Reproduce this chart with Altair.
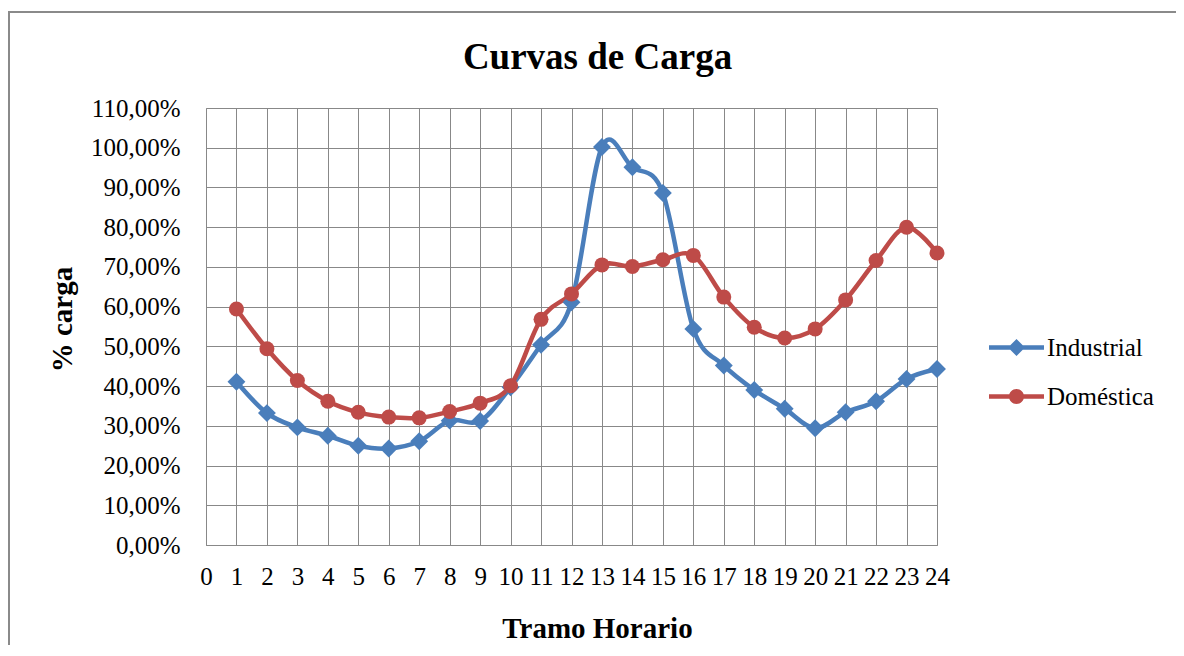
import altair as alt
import pandas as pd

hours = list(range(1, 25))
industrial = [41.1, 33.2, 29.6, 27.5, 25.0, 24.3, 26.1, 31.3, 31.2, 39.7, 50.4, 61.1,
              100.2, 95.1, 88.6, 54.4, 45.2, 39.0, 34.3, 29.4, 33.4, 36.2, 41.8, 44.3]
domestica = [59.4, 49.4, 41.4, 36.2, 33.4, 32.2, 32.0, 33.6, 35.7, 40.1, 56.8, 63.2,
             70.5, 70.1, 71.8, 72.9, 62.4, 54.8, 52.1, 54.4, 61.7, 71.6, 80.0, 73.5]
series = ["Industrial", "Doméstica"]
colors = ["#4A7EBB", "#BE4B48"]
x_ticks = list(range(0, 25))
y_ticks = list(range(0, 111, 10))

rows = []
for h, v in zip(hours, industrial):
    rows.append({"hora": h, "pct": v, "serie": "Industrial"})
for h, v in zip(hours, domestica):
    rows.append({"hora": h, "pct": v, "serie": "Doméstica"})
df = pd.DataFrame(rows)

FONT = "Liberation Serif"
GRID = "#888888"

# legend symbols: a line segment with the marker on top
path_ind = ("M-2.75,-0.22L2.75,-0.22L2.75,0.22L-2.75,0.22Z "
            "M-0.85,0L0,-0.85L0.85,0L0,0.85Z")
path_dom = ("M-2.75,-0.22L2.75,-0.22L2.75,0.22L-2.75,0.22Z "
            "M-0.75,0A0.75,0.75 0 1,1 0.75,0A0.75,0.75 0 1,1 -0.75,0Z")

x_axis = alt.Axis(values=x_ticks, title="Tramo Horario", grid=True,
                  ticks=False, tickSize=0, labelPadding=19,
                  labelFontSize=25, labelFont=FONT, labelColor="black",
                  titleFont=FONT, titleFontSize=29, titleFontWeight="bold",
                  titleColor="black", titleX=391, titleY=92,
                  titleBaseline="alphabetic", titleAlign="center",
                  domainColor=GRID, gridColor=GRID, labelFlush=False,
                  labelOverlap=False)
y_axis = alt.Axis(values=y_ticks, title="% carga", grid=True,
                  ticks=False, tickSize=0, labelPadding=26,
                  labelExpr="replace(format(datum.value, '.2f'), '.', ',') + '%'",
                  labelFontSize=25, labelFont=FONT, labelColor="black",
                  titleFont=FONT, titleFontSize=29, titleFontWeight="bold",
                  titleColor="black", titleX=-129, titleY=211,
                  titleBaseline="bottom", titleAlign="center", titleAngle=-90,
                  domainColor=GRID, gridColor=GRID, labelOverlap=False)


def xe():
    return alt.X("hora:Q", scale=alt.Scale(domain=[0, 24], nice=False), axis=x_axis)


def ye():
    return alt.Y("pct:Q", scale=alt.Scale(domain=[0, 110], nice=False), axis=y_axis)


frame = alt.Chart(alt.Data(values=[{"a": 1}])).mark_rect(
    fill=None, stroke="#8a8a8a", strokeWidth=2
).encode(x=alt.value(-197), x2=alt.value(1300), y=alt.value(-96), y2=alt.value(800))

base = alt.Chart(df)
layers = [frame]
markers = {"Industrial": ("diamond", 320), "Doméstica": ("circle", 225)}
for s, c in zip(series, colors):
    sub = base.transform_filter(alt.datum.serie == s)
    layers.append(sub.mark_line(interpolate="cardinal", strokeWidth=4.5, strokeCap="round",
                                strokeJoin="round", color=c).encode(x=xe(), y=ye()))
for s, c in zip(series, colors):
    sub = base.transform_filter(alt.datum.serie == s)
    shp, sz = markers[s]
    layers.append(sub.mark_point(shape=shp, filled=True, size=sz, opacity=1, color=c)
                  .encode(x=xe(), y=ye()))

leg = dict(title=None, orient="none", legendX=798, legendY=227, padding=0,
           symbolSize=400, symbolOpacity=1, symbolStrokeWidth=0,
           labelFont=FONT, labelFontSize=25, labelColor="black", labelOffset=18,
           rowPadding=23, labelLimit=300)

legend_layer = base.mark_point(filled=True, opacity=0).encode(
    x=xe(), y=ye(),
    color=alt.Color("serie:N", scale=alt.Scale(domain=series, range=colors),
                    legend=alt.Legend(**leg)),
    shape=alt.Shape("serie:N", scale=alt.Scale(domain=series, range=[path_ind, path_dom]),
                    legend=alt.Legend(**leg)))
layers.append(legend_layer)

chart = alt.layer(*layers).properties(
    width=731, height=437,
    autosize=alt.AutoSizeParams(type="none"),
    padding={"left": 198, "top": 100, "right": 239, "bottom": 100},
    title=alt.TitleParams("Curvas de Carga", font=FONT, fontSize=37, fontWeight="bold",
                          color="black", anchor="middle", dx=26, offset=-95,
                          baseline="alphabetic"),
).configure_view(stroke=GRID, strokeWidth=1).configure(background="white")

chart.save("out.html", embed_options={"renderer": "svg", "actions": False})
